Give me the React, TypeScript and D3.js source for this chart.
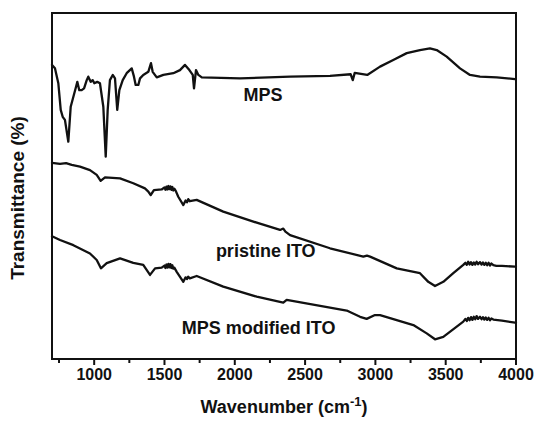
import React from 'react';
import * as d3 from 'd3';

// FTIR spectra: [wavenumber (cm-1), transmittance (a.u., %)]
const mpsSeries: [number, number][] = [
  [700, 85.0], [721, 84.0], [745, 79.7], [762, 72.0], [776, 70.0], [792, 69.1],
  [816, 62.8], [833, 72.9], [852, 75.8], [871, 78.7], [880, 80.1], [894, 77.7],
  [911, 77.7], [928, 78.2], [947, 80.6], [958, 81.6], [975, 80.1], [989, 80.6],
  [1001, 79.7], [1022, 80.1], [1041, 79.7], [1065, 72.9], [1082, 58.5], [1096, 72.0],
  [1112, 80.6], [1132, 82.1], [1148, 81.1], [1164, 72.0], [1179, 77.7], [1203, 80.6],
  [1231, 82.6], [1267, 84.0], [1283, 81.6], [1295, 79.2], [1314, 79.2], [1326, 81.1],
  [1349, 82.1], [1385, 83.0], [1404, 85.5], [1416, 83.0], [1445, 81.4], [1492, 82.1],
  [1563, 82.6], [1610, 83.5], [1646, 85.0], [1677, 83.5], [1701, 82.1], [1710, 78.2],
  [1724, 83.5], [1741, 82.1], [1765, 81.4], [2037, 81.1], [2393, 81.6], [2677, 81.8],
  [2824, 82.3], [2839, 80.6], [2853, 82.7], [2942, 82.1], [3033, 84.5], [3127, 86.4],
  [3223, 88.4], [3317, 89.3], [3388, 89.8], [3436, 89.3], [3507, 87.4], [3602, 84.0],
  [3673, 82.1], [3744, 81.6], [3863, 81.4], [3993, 80.9], [4000, 80.9],
];

const pristineSeries: [number, number][] = [
  [700, 56.7], [757, 56.4], [800, 56.6], [840, 56.1], [899, 55.6], [970, 54.6],
  [1018, 53.2], [1046, 51.5], [1077, 52.5], [1184, 52.2], [1278, 50.8], [1361, 49.3],
  [1385, 48.4], [1402, 47.4], [1425, 48.8], [1480, 49.0], [1500, 49.6], [1507, 48.9],
  [1514, 49.8], [1521, 49.0], [1528, 50.0], [1535, 49.1], [1542, 49.9], [1549, 48.9],
  [1556, 49.7], [1563, 48.7], [1570, 49.2], [1580, 48.6], [1598, 46.9], [1634, 44.5],
  [1650, 45.8], [1660, 45.3], [1669, 46.2], [1680, 45.6], [1729, 46.0], [1918, 42.6],
  [2156, 39.4], [2322, 37.3], [2345, 37.7], [2360, 36.8], [2393, 35.8], [2677, 32.0],
  [2914, 29.6], [2940, 29.9], [2962, 29.6], [3152, 26.2], [3317, 24.8], [3376, 22.3],
  [3424, 21.1], [3483, 22.3], [3554, 24.8], [3625, 27.2], [3640, 27.8], [3650, 27.2],
  [3660, 28.1], [3670, 27.3], [3680, 28.0], [3690, 27.2], [3700, 27.9], [3710, 27.3],
  [3720, 28.1], [3730, 27.4], [3744, 28.0], [3755, 27.3], [3765, 27.9], [3775, 27.2],
  [3785, 27.8], [3795, 27.1], [3805, 27.8], [3815, 27.0], [3825, 27.6], [3839, 27.1],
  [3860, 26.9], [3900, 26.9], [3993, 26.7], [4000, 26.7],
];

const modifiedSeries: [number, number][] = [
  [700, 35.5], [757, 34.4], [852, 32.9], [970, 30.5], [1018, 28.6], [1048, 26.2],
  [1089, 27.7], [1184, 29.1], [1278, 27.8], [1349, 27.2], [1397, 24.3], [1433, 26.2],
  [1480, 26.4], [1500, 27.0], [1507, 26.3], [1514, 27.3], [1521, 26.4], [1528, 27.5],
  [1535, 26.5], [1542, 27.4], [1549, 26.3], [1556, 27.1], [1563, 26.1], [1570, 26.4],
  [1587, 25.2], [1634, 22.3], [1650, 23.6], [1660, 23.1], [1669, 23.8], [1680, 23.3],
  [1729, 24.0], [1918, 20.9], [2156, 18.0], [2345, 16.3], [2369, 17.1], [2796, 14.0],
  [2891, 12.2], [2938, 11.6], [2997, 12.7], [3033, 12.7], [3270, 9.8], [3365, 7.4],
  [3424, 5.7], [3483, 6.4], [3625, 10.8], [3640, 11.6], [3650, 11.0], [3660, 11.9],
  [3670, 11.2], [3680, 12.1], [3690, 11.3], [3700, 12.2], [3710, 11.5], [3720, 12.4],
  [3730, 11.6], [3744, 12.2], [3755, 11.5], [3765, 12.1], [3775, 11.4], [3785, 12.0],
  [3795, 11.3], [3805, 11.9], [3815, 11.2], [3825, 11.7], [3839, 11.4], [3900, 11.1],
  [3993, 10.5], [4000, 10.5],
];

const seriesLabels = ['MPS', 'pristine ITO', 'MPS modified ITO'];
// label anchor [wavenumber, transmittance]
const labelPositions: [number, number][] = [[2200, 74.5], [2220, 29.5], [2170, 7.2]];

const majorTicks = [1000, 1500, 2000, 2500, 3000, 3500, 4000];
const minorTicks = [750, 1250, 1750, 2250, 2750, 3250, 3750];

const W = 539;
const H = 427;
const margin = { top: 13, right: 23, bottom: 68, left: 52 };
const FONT = '"Liberation Sans", Arial, Helvetica, sans-serif';

export default function App() {
  const x = d3.scaleLinear().domain([700, 4000]).range([margin.left, W - margin.right]);
  const y = d3.scaleLinear().domain([0, 100]).range([H - margin.bottom, margin.top]);
  const line = d3.line<[number, number]>()
    .x(d => x(d[0]))
    .y(d => y(d[1]))
    .curve(d3.curveLinear);

  const series = [mpsSeries, pristineSeries, modifiedSeries];
  const bottom = H - margin.bottom;

  return (
    <svg width={W} height={H} style={{ position: 'absolute', left: 0, top: 0, background: '#fff' }}>
      <rect x={0} y={0} width={W} height={H} fill="#fff" />
      {series.map((s, i) => (
        <path key={i} d={line(s) || ''} fill="none" stroke="#111" strokeWidth={2.3}
          strokeLinejoin="round" strokeLinecap="round" />
      ))}
      {seriesLabels.map((t, i) => (
        <text key={t} x={x(labelPositions[i][0])} y={y(labelPositions[i][1])}
          textAnchor="middle" fontFamily={FONT} fontWeight="bold" fontSize={18} fill="#111">
          {t}
        </text>
      ))}
      {/* frame */}
      <rect x={margin.left} y={margin.top} width={W - margin.left - margin.right}
        height={bottom - margin.top} fill="none" stroke="#111" strokeWidth={2} />
      {/* bottom ticks */}
      {majorTicks.map(t => (
        <line key={t} x1={x(t)} x2={x(t)} y1={bottom} y2={bottom + 6} stroke="#111" strokeWidth={2} />
      ))}
      {minorTicks.map(t => (
        <line key={t} x1={x(t)} x2={x(t)} y1={bottom} y2={bottom + 4} stroke="#111" strokeWidth={2} />
      ))}
      {majorTicks.map(t => (
        <text key={'l' + t} x={x(t)} y={bottom + 21} textAnchor="middle" fontFamily={FONT}
          fontWeight="bold" fontSize={16} fill="#111">{t}</text>
      ))}
      <text x={(margin.left + W - margin.right) / 2} y={H - 14} textAnchor="middle"
        fontFamily={FONT} fontWeight="bold" fontSize={18} fill="#111">
        Wavenumber (cm<tspan dy={-7} fontSize={13}>-1</tspan><tspan dy={7}>)</tspan>
      </text>
      <text transform={`translate(24,${(margin.top + bottom) / 2 + 12}) rotate(-90)`}
        textAnchor="middle" fontFamily={FONT} fontWeight="bold" fontSize={19} fill="#111">
        Transmittance (%)
      </text>
    </svg>
  );
}
